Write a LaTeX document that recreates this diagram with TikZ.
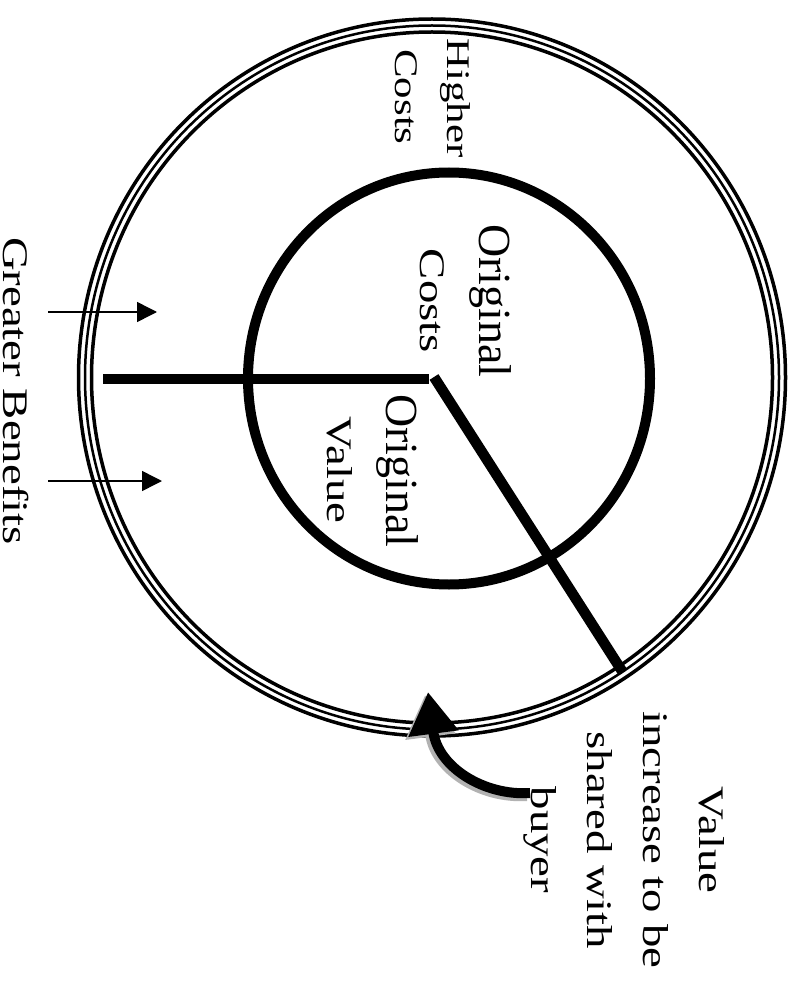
\documentclass[tikz,border=0pt]{standalone}
\usepackage{fontspec}
\setmainfont{Liberation Serif}
\newfontfamily\widefont[FakeStretch=1.3]{Liberation Serif}
\usetikzlibrary{arrows.meta}

\begin{document}
\begin{tikzpicture}[x=1pt, y=-1pt,
    biglbl/.style={rotate=-90, inner sep=0, anchor=base, font=\fontsize{46}{55}\selectfont},
    widelbl/.style={rotate=-90, inner sep=0, anchor=base, font=\widefont\fontsize{36}{56}\selectfont},
    ring/.style={line width=3.5pt},
    spoke/.style={line width=10.5pt},
    thinarr/.style={line width=1.5pt, -{Triangle[length=20pt, width=20pt]}},
    bigarr/.style={line width=10pt, -{Triangle[length=42pt, width=48pt]}}]
  \useasboundingbox (0,0) rectangle (796,992);
  % outer ring, drawn as three lines
  \foreach \rx/\ry/\w in {353.5/358.5/3.5, 347/352/2.5, 340.5/345.5/3.5}
    \draw[ring, line width=\w pt] (432,377.5) ellipse [x radius=\rx*1pt, y radius=\ry*1pt];
  % inner circle
  \draw[line width=10pt] (449,378.5) ellipse [x radius=201pt, y radius=206pt];

  \coordinate (rimL) at (103,379);
  \coordinate (hubL) at (429,379);
  \coordinate (hub) at (434,377);
  \coordinate (rimD) at (622,671);
  \draw[spoke] (rimL) -- (hubL);
  \draw[spoke] (hub) -- (rimD);

  \coordinate (gbTail1) at (48,312);
  \coordinate (gbTip1) at (157,312);
  \coordinate (gbTail2) at (48,481);
  \coordinate (gbTip2) at (162,481);
  \draw[thinarr] (gbTail1) -- (gbTip1);
  \draw[thinarr] (gbTail2) -- (gbTip2);

  % curved arrow with its shadow
  \coordinate (shTail) at (530,793);
  \coordinate (shTip) at (428,692);
  \draw[bigarr, gray!60, transform canvas={shift={(-3,3)}}] (shTail) .. controls (485,796) and (438,768) .. (shTip);
  \draw[bigarr] (shTail) .. controls (485,796) and (438,768) .. (shTip);

  \node[widelbl, font=\widefont\fontsize{33}{52}\selectfont] (hcTop) at (447,98) {Higher};
  \node[widelbl, font=\widefont\fontsize{33}{52}\selectfont] (hcBot) at (395,97) {Costs};
  \node[biglbl] (ocTop) at (479,301) {Original};
  \node[widelbl] (ocBot) at (420,301) {Costs};
  \node[biglbl] (ovTop) at (386,471) {Original};
  \node[widelbl] (ovBot) at (327,470) {Value};
  \node[widelbl] (gb) at (4,391) {Greater Benefits};
  \node[widelbl, anchor=center, align=center] (share) at (624,840) {Value\\increase to be\\shared with\\buyer};
\end{tikzpicture}
\end{document}
